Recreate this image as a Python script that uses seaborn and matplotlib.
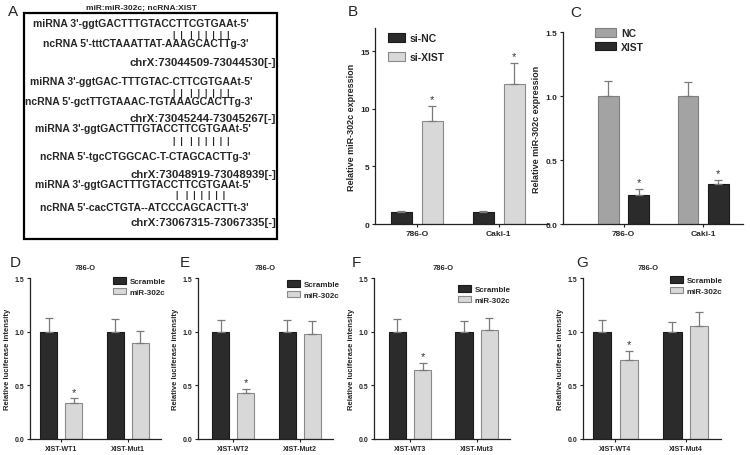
import numpy as np
import pandas as pd
import matplotlib

matplotlib.use("Agg")
import matplotlib.pyplot as plt
from matplotlib.patches import Patch, Rectangle
import seaborn as sns

sns.set_style("ticks")
plt.rcParams["font.family"] = ["Liberation Sans", "DejaVu Sans"]

W, H = 750, 456

# ---- data -------------------------------------------------------------
cell_lines = ["786-O", "Caki-1"]

b_si_nc = [1.0, 1.0]
b_si_nc_err = [0.15, 0.15]
b_si_xist = [8.9, 12.1]
b_si_xist_err = [1.3, 1.9]

c_nc = [1.0, 1.0]
c_nc_err = [0.12, 0.11]
c_xist = [0.23, 0.31]
c_xist_err = [0.04, 0.03]

luc_scramble = {"D": [1.0, 1.0], "E": [1.0, 1.0], "F": [1.0, 1.0], "G": [1.0, 1.0]}
luc_scramble_err = {"D": [0.13, 0.12], "E": [0.11, 0.11], "F": [0.12, 0.10], "G": [0.11, 0.09]}
luc_mir = {"D": [0.34, 0.89], "E": [0.43, 0.98], "F": [0.64, 1.02], "G": [0.74, 1.05]}
luc_mir_err = {"D": [0.04, 0.12], "E": [0.035, 0.12], "F": [0.07, 0.11], "G": [0.08, 0.13]}
luc_groups = {k: [f"XIST-WT{i}", f"XIST-Mut{i}"] for i, k in enumerate("DEFG", start=1)}

site_title = "miR:miR-302c; ncRNA:XIST"
site_mirna = [
    "miRNA 3'-ggtGACTTTGTACCTTCGTGAAt-5'",
    "miRNA 3'-ggtGAC-TTTGTAC-CTTCGTGAAt-5'",
    "miRNA 3'-ggtGACTTTGTACCTTCGTGAAt-5'",
    "miRNA 3'-ggtGACTTTGTACCTTCGTGAAt-5'",
]
site_pairs = [
    "|  |   |  |  |  |  |  |",
    "|  |   |  |  |  |  |  |",
    "|  |   |  |  |  |  |  |",
    "|   |  |  |  |  |  |",
]
site_ncrna = [
    "ncRNA 5'-tttCTAAATTAT-AAAGCACTTg-3'",
    "ncRNA 5'-gctTTGTAAAC-TGTAAAGCACTTg-3'",
    "ncRNA 5'-tgcCTGGCAC-T-CTAGCACTTg-3'",
    "ncRNA 5'-cacCTGTA--ATCCCAGCACTTt-3'",
]
site_loc = [
    "chrX:73044509-73044530[-]",
    "chrX:73045244-73045267[-]",
    "chrX:73048919-73048939[-]",
    "chrX:73067315-73067335[-]",
]

DARK = "#2b2b2b"
LIGHT = "#d8d8d8"
MID = "#a3a3a3"
ERR = "#7a7a7a"

fig = plt.figure(figsize=(W / 100, H / 100), dpi=100)


def px_axes(left, right, top, bottom):
    return fig.add_axes([left / W, 1 - bottom / H, (right - left) / W, (bottom - top) / H])


def ftext(x, y, s, **kw):
    fig.text(x / W, 1 - y / H, s, **kw)


def bar_panel(ax, groups, s1, e1, s2, e2, names, colors, edges, star, ylim, yticks,
              yfmt, ylabel, xlim, tick_fs, star_fs):
    df = pd.DataFrame({
        "group": list(groups) * 2,
        "series": [names[0]] * 2 + [names[1]] * 2,
        "value": list(s1) + list(s2),
    })
    sns.barplot(data=df, x="group", y="value", hue="series", order=groups,
                hue_order=names, palette=dict(zip(names, colors)), width=0.76,
                gap=0.32, errorbar=None, legend=False, ax=ax,
                edgecolor=ERR, linewidth=0.8, saturation=1)
    for cont, vals, errs, ec in zip(ax.containers, (s1, s2), (e1, e2), edges):
        xs = []
        for p in cont.patches:
            p.set_edgecolor(ec)
            xs.append(p.get_x() + p.get_width() / 2)
        ax.errorbar(xs, vals, yerr=[np.zeros(len(errs)), errs], fmt="none",
                    ecolor=ERR, elinewidth=0.9, capsize=3.2, capthick=0.9, zorder=1)
    # asterisks
    for si, gi in star:
        vals = (s1, s2)[si]
        errs = (e1, e2)[si]
        p = ax.containers[si].patches[gi]
        x = p.get_x() + p.get_width() / 2
        ax.text(x, vals[gi] + errs[gi] + (ylim[1] * 0.01), "*", ha="center",
                va="bottom", fontsize=star_fs, color="#333333")
    ax.set_xlim(*xlim)
    ax.set_ylim(*ylim)
    ax.set_yticks(yticks)
    ax.set_yticklabels([yfmt.format(t) for t in yticks])
    ax.set_xlabel("")
    ax.set_ylabel(ylabel, fontsize=tick_fs + 0.5, fontweight="bold", labelpad=3)
    sns.despine(ax=ax)
    for s in ("left", "bottom"):
        ax.spines[s].set_linewidth(0.9)
        ax.spines[s].set_color("#222222")
    ax.tick_params(axis="both", length=2.5, width=0.8, pad=1.5, labelsize=tick_fs,
                   color="#222222")
    for lab in ax.get_xticklabels() + ax.get_yticklabels():
        lab.set_fontweight("bold")


def add_legend(ax, names, colors, edges, x, y_top, fs, hl, ls):
    handles = [Patch(facecolor=c, edgecolor=e, linewidth=0.8) for c, e in zip(colors, edges)]
    leg = ax.legend(handles, names, loc="upper left", bbox_to_anchor=(x / W, 1 - y_top / H),
                    bbox_transform=fig.transFigure, frameon=False, borderpad=0,
                    borderaxespad=0, handlelength=hl, handleheight=0.9,
                    handletextpad=0.5, labelspacing=ls, prop={"size": fs, "weight": "bold"})
    return leg


# ---- panel A: binding sites --------------------------------------------
fig.patches.append(Rectangle((24 / W, 1 - 240 / H), 253 / W, 226 / H,
                             transform=fig.transFigure, fill=False,
                             edgecolor="black", linewidth=1.6))
ftext(8, 12, "A", fontsize=11, va="center")
ftext(141, 8, site_title, fontsize=6, fontweight="bold", ha="center", va="center")
rows_mirna = [24, 82, 129, 185]
rows_bars = [35, 93, 141, 196]
rows_ncrna = [44, 102, 157, 208]
rows_loc = [63, 119, 175, 223]
x_mirna = [33, 30, 35, 35]
x_ncrna = [43, 25, 40, 40]
for i in range(4):
    ftext(x_mirna[i], rows_mirna[i], site_mirna[i], fontsize=7.5, fontweight="bold", va="center")
    ftext(201, rows_bars[i], site_pairs[i], fontsize=6.5, fontweight="bold",
          va="center", ha="center")
    ftext(x_ncrna[i], rows_ncrna[i], site_ncrna[i], fontsize=7.5, fontweight="bold", va="center")
    ftext(276, rows_loc[i], site_loc[i], fontsize=8.2, fontweight="bold", va="center", ha="right")

# ---- panel B ----------------------------------------------------------
axB = px_axes(375, 548, 29, 225)
bar_panel(axB, cell_lines, b_si_nc, b_si_nc_err, b_si_xist, b_si_xist_err,
          ["si-NC", "si-XIST"], [DARK, LIGHT], ["#1a1a1a", "#8a8a8a"],
          star=[(1, 0), (1, 1)], ylim=(0, 17), yticks=[0, 5, 10, 15], yfmt="{:g}",
          ylabel="Relative miR-302c expression", xlim=(-0.51, 1.6), tick_fs=6, star_fs=8)
add_legend(axB, ["si-NC", "si-XIST"], [DARK, LIGHT], ["#1a1a1a", "#8a8a8a"],
           388, 34, 7.5, 1.6, 0.9)
ftext(348, 12, "B", fontsize=11, va="center")

# ---- panel C ----------------------------------------------------------
axC = px_axes(563, 743, 33, 225)
bar_panel(axC, cell_lines, c_nc, c_nc_err, c_xist, c_xist_err,
          ["NC", "XIST"], [MID, DARK], ["#7f7f7f", "#1a1a1a"],
          star=[(1, 0), (1, 1)], ylim=(0, 1.5), yticks=[0, 0.5, 1.0, 1.5], yfmt="{:.1f}",
          ylabel="Relative miR-302c expression", xlim=(-0.76, 1.5), tick_fs=6, star_fs=8)
add_legend(axC, ["NC", "XIST"], [MID, DARK], ["#7f7f7f", "#1a1a1a"],
           595, 29, 7.5, 2.0, 0.35)
ftext(570, 13, "C", fontsize=11, va="center")

# ---- panels D-G: luciferase -------------------------------------------
luc_box = {"D": (30, 161, (-0.47, 1.5)), "E": (198, 333, (-0.53, 1.5)),
           "F": (374, 510, (-0.54, 1.5)), "G": (583, 721, (-0.46, 1.5))}
luc_leg = {"D": (113, 278), "E": (287, 281), "F": (458, 286), "G": (670, 277)}
luc_letter = {"D": 10, "E": 180, "F": 352, "G": 576}
luc_title = {"D": 85, "E": 265, "F": 443, "G": 648}
for k in "DEFG":
    l, r, xl = luc_box[k]
    ax = px_axes(l, r, 279, 440)
    bar_panel(ax, luc_groups[k], luc_scramble[k], luc_scramble_err[k], luc_mir[k],
              luc_mir_err[k], ["Scramble", "miR-302c"], [DARK, LIGHT],
              ["#1a1a1a", "#8a8a8a"], star=[(1, 0)], ylim=(0, 1.5),
              yticks=[0, 0.5, 1.0, 1.5], yfmt="{:.1f}",
              ylabel="Relative luciferase intensity", xlim=xl, tick_fs=5, star_fs=8)
    lx, ly = luc_leg[k]
    add_legend(ax, ["Scramble", "miR-302c"], [DARK, LIGHT], ["#1a1a1a", "#8a8a8a"],
               lx, ly, 5.8, 1.6, 0.3)
    ftext(luc_letter[k], 263, k, fontsize=11, va="center")
    ftext(luc_title[k], 268, "786-O", fontsize=5.5, fontweight="bold", ha="center", va="center")

fig.savefig("out.png", dpi=100)
